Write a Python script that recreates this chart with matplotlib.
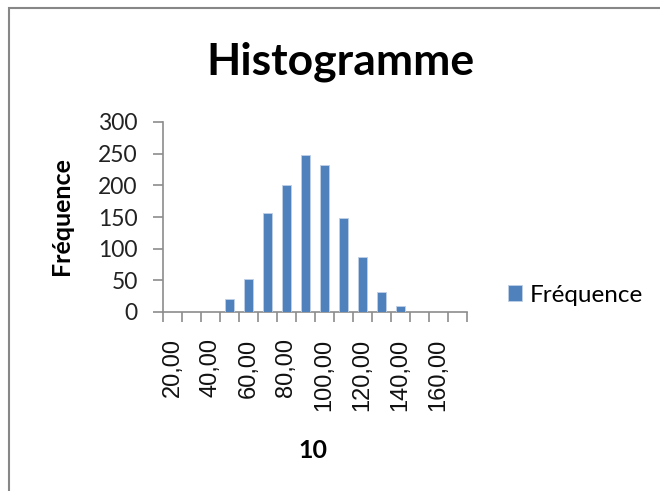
import numpy as np
import matplotlib.pyplot as plt
from matplotlib.patches import Rectangle

# categories (bin upper bounds) and frequencies
bins = [20, 30, 40, 50, 60, 70, 80, 90, 100, 110, 120, 130, 140, 150, 160, 170]
freq = [0, 0, 0, 20, 52, 157, 200, 248, 232, 149, 87, 32, 10, 0, 0, 0]
bin_labels = [f"{b:.2f}".replace(".", ",") for b in bins]

plt.rcParams['font.family'] = ['Lato', 'DejaVu Sans']

W, H = 660, 491
fig = plt.figure(figsize=(W / 100, H / 100), dpi=100)

# outer chart frame
fig.patches.append(Rectangle((9 / W, -0.1), 1.2, (H - 8) / H + 0.1, transform=fig.transFigure,
                             fill=False, edgecolor='#878787', linewidth=1.5))

x0, x1, ytop, ybot = 163, 467, 122, 312
ax = fig.add_axes([x0 / W, 1 - ybot / H, (x1 - x0) / W, (ybot - ytop) / H])

pos = np.arange(len(bins))
ax.bar(pos, freq, width=0.44, color='#4F81BD', edgecolor='#BFD0E6', linewidth=0.6,
       label='Fréquence', zorder=3)

ax.set_xlim(-0.5, len(bins) - 0.5)
ax.set_ylim(0, 300)
ax.set_yticks(range(0, 301, 50))

ax.set_xticks(pos[::2])
ax.set_xticklabels(bin_labels[::2], rotation=90, fontsize=17, color='#111111',
                   family='Liberation Sans')
ax.set_xticks(np.arange(len(bins) + 1) - 0.5, minor=True)
ax.tick_params(axis='x', which='major', length=0, pad=19)
ax.tick_params(axis='x', which='minor', length=7.2, width=1.2, color='#8c8c8c')
ax.tick_params(axis='y', length=7.2, width=1.2, color='#8c8c8c', labelsize=16.5,
               labelcolor='#222222', pad=11)

for s in ['top', 'right']:
    ax.spines[s].set_visible(False)
for s in ['left', 'bottom']:
    ax.spines[s].set_color('#8c8c8c')
    ax.spines[s].set_linewidth(1.2)

fig.text(340 / W, 1 - 62 / H, 'Histogramme', ha='center', va='center',
         fontsize=32, fontweight='bold')
fig.text(62 / W, 1 - 216 / H, 'Fréquence', ha='center', va='center',
         rotation=90, fontsize=18, fontweight='bold')
fig.text(313 / W, 1 - 450 / H, '10', ha='center', va='center',
         fontsize=18, fontweight='bold')

ax.legend(loc='center left', bbox_to_anchor=(486 / W, 1 - 295 / H),
          bbox_transform=fig.transFigure, frameon=False, fontsize=17.5,
          handlelength=0.6, handleheight=0.6, handletextpad=0.3)

fig.savefig('out.png', dpi=100)
